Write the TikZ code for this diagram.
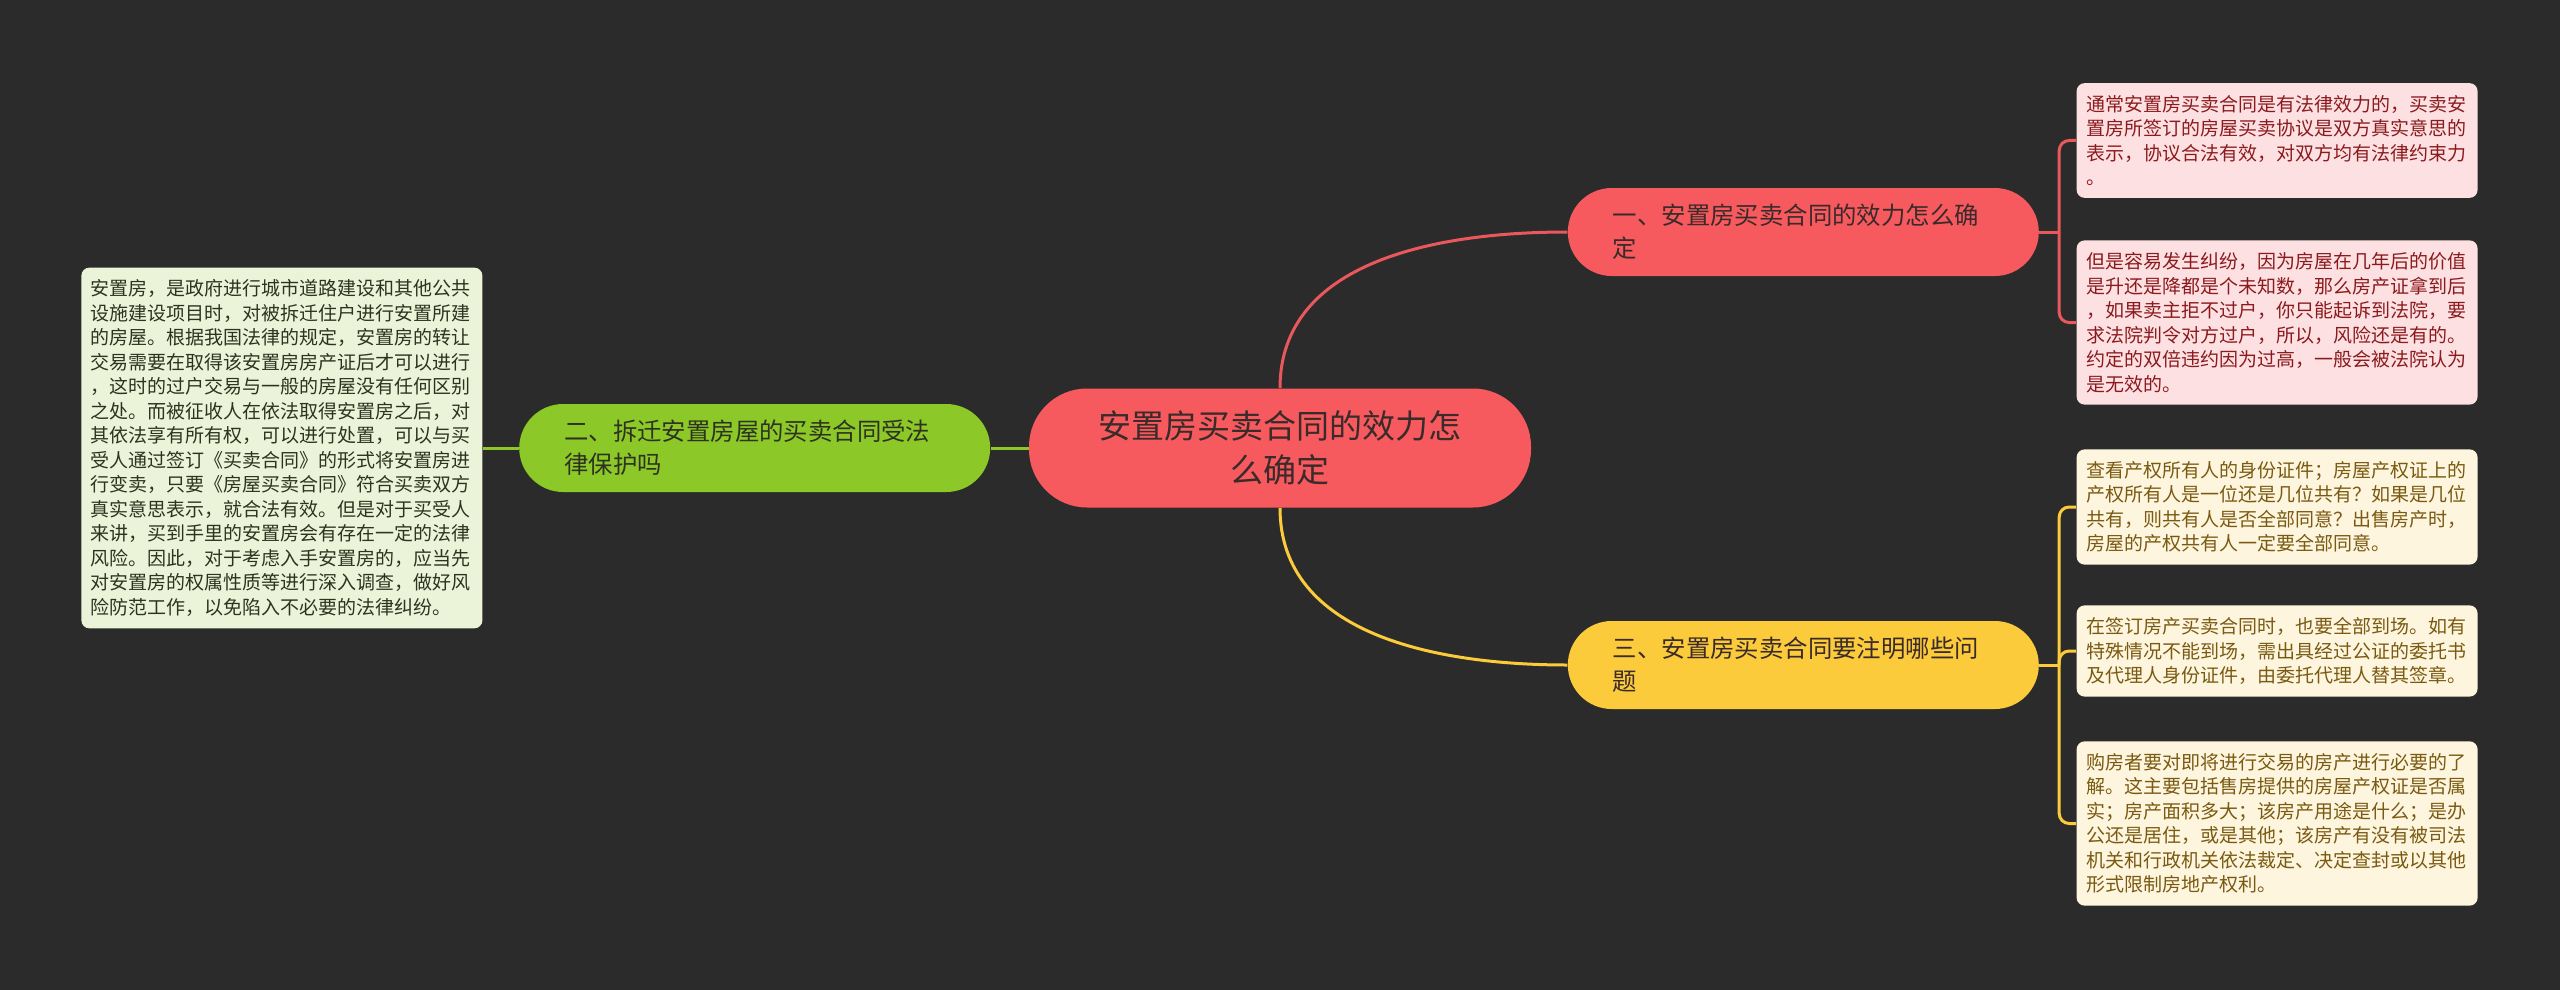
\documentclass[tikz,border=0pt]{standalone}
\usepackage{fontspec}
\setmainfont{Noto Sans CJK SC}
\usepackage{tikz}
\usetikzlibrary{positioning,calc}

\definecolor{bgdark}{HTML}{2B2B2B}
\definecolor{redmain}{HTML}{F75A5E}
\definecolor{redline}{HTML}{E8585C}
\definecolor{redleaf}{HTML}{FDE1E2}
\definecolor{redtext}{HTML}{8B1A1E}
\definecolor{greenmain}{HTML}{8CC828}
\definecolor{greenleaf}{HTML}{EBF4D9}
\definecolor{greentext}{HTML}{2E3320}
\definecolor{yellowmain}{HTML}{FBCB3B}
\definecolor{yellowleaf}{HTML}{FDF5DD}
\definecolor{yellowtext}{HTML}{7A5A12}
\definecolor{darktext}{HTML}{3A2A2A}

\begin{document}
\begin{tikzpicture}[
    x=0.5pt, y=-0.5pt,
    rootbox/.style={rounded corners=29pt, fill=redmain, text=darktext, align=center, inner sep=0pt, minimum width=251pt, minimum height=59.5pt, font=\fontsize{16.5}{22}\selectfont},
    branch/.style={rounded corners=22pt, align=left, text width=190.5pt, inner xsep=22.5pt, inner ysep=0pt, minimum height=44pt, font=\fontsize{12.2}{16.5}\selectfont},
    leaf/.style={rounded corners=4pt, align=left, text width=191pt, inner xsep=4.75pt, inner ysep=6pt, font=\fontsize{9.5}{12.25}\selectfont},
    wire/.style={line width=1.5pt},
    bracket/.style={line width=1.5pt, rounded corners=5pt}
]

\fill[bgdark] (0,0) rectangle (2560,990);
\useasboundingbox (0,0) rectangle (2560,990);

\node[rootbox] (root) at (1280,448) {安置房买卖合同的效力怎\\么确定};

\node[branch, fill=redmain, text=darktext, right=18pt of root, yshift=108pt] (b1) {一、安置房买卖合同的效力怎么确\\定};
\node[branch, fill=greenmain, text=greentext, left=19pt of root] (b2) {二、拆迁安置房屋的买卖合同受法\\律保护吗};
\node[branch, fill=yellowmain, text=darktext, right=18pt of root, yshift=-108.5pt] (b3) {三、安置房买卖合同要注明哪些问\\题};

\node[leaf, fill=greenleaf, text=greentext, left=18pt of b2] (intro) {安置房，是政府进行城市道路建设和其他公共\\设施建设项目时，对被拆迁住户进行安置所建\\的房屋。根据我国法律的规定，安置房的转让\\交易需要在取得该安置房房产证后才可以进行\\，这时的过户交易与一般的房屋没有任何区别\\之处。而被征收人在依法取得安置房之后，对\\其依法享有所有权，可以进行处置，可以与买\\受人通过签订《买卖合同》的形式将安置房进\\行变卖，只要《房屋买卖合同》符合买卖双方\\真实意思表示，就合法有效。但是对于买受人\\来讲，买到手里的安置房会有存在一定的法律\\风险。因此，对于考虑入手安置房的，应当先\\对安置房的权属性质等进行深入调查，做好风\\险防范工作，以免陷入不必要的法律纠纷。};

\node[leaf, fill=redleaf, text=redtext, right=18.5pt of b1, yshift=45.75pt] (valid) {通常安置房买卖合同是有法律效力的，买卖安\\置房所签订的房屋买卖协议是双方真实意思的\\表示，协议合法有效，对双方均有法律约束力\\。};
\node[leaf, fill=redleaf, text=redtext, right=18.5pt of b1, yshift=-45.25pt] (risk) {但是容易发生纠纷，因为房屋在几年后的价值\\是升还是降都是个未知数，那么房产证拿到后\\，如果卖主拒不过户，你只能起诉到法院，要\\求法院判令对方过户，所以，风险还是有的。\\约定的双倍违约因为过高，一般会被法院认为\\是无效的。};

\node[leaf, fill=yellowleaf, text=yellowtext, right=18.5pt of b3, yshift=79pt] (owner) {查看产权所有人的身份证件；房屋产权证上的\\产权所有人是一位还是几位共有？如果是几位\\共有，则共有人是否全部同意？出售房产时，\\房屋的产权共有人一定要全部同意。};
\node[leaf, fill=yellowleaf, text=yellowtext, right=18.5pt of b3, yshift=7pt] (sign) {在签订房产买卖合同时，也要全部到场。如有\\特殊情况不能到场，需出具经过公证的委托书\\及代理人身份证件，由委托代理人替其签章。};
\node[leaf, fill=yellowleaf, text=yellowtext, right=18.5pt of b3, yshift=-79.25pt] (check) {购房者要对即将进行交易的房产进行必要的了\\解。这主要包括售房提供的房屋产权证是否属\\实；房产面积多大；该房产用途是什么；是办\\公还是居住，或是其他；该房产有没有被司法\\机关和行政机关依法裁定、决定查封或以其他\\形式限制房地产权利。};

\coordinate (j1) at ($(b1.east)+(20,0)$);
\coordinate (j3) at ($(b3.east)+(20,0)$);

\draw[wire, redline] (root.north) to[out=90, in=180] (b1.west);
\draw[wire, yellowmain] (root.south) to[out=-90, in=180] (b3.west);
\draw[wire, greenmain] (root.west) -- (b2.east);
\draw[wire, greenmain] (b2.west) -- (intro.east);

\draw[wire, redline] (b1.east) -- (j1);
\draw[bracket, redline] (j1) |- (valid.west);
\draw[bracket, redline] (j1) |- (risk.west);

\draw[wire, yellowmain] (b3.east) -- (j3);
\draw[bracket, yellowmain] (j3) |- (owner.west);
\draw[bracket, yellowmain] (j3) |- (sign.west);
\draw[bracket, yellowmain] (j3) |- (check.west);

\end{tikzpicture}
\end{document}
